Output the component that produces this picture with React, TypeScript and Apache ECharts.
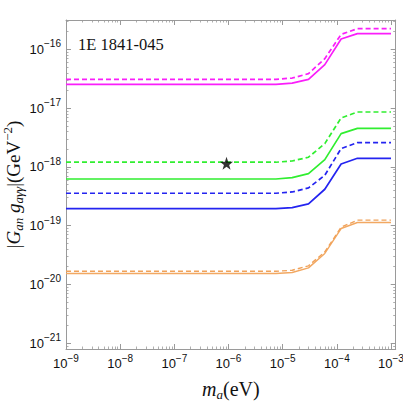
import * as echarts from "echarts";
import { useEffect, useRef } from "react";

// axion mass grid (eV)
const massEV = [1e-9, 7.5e-6, 1.5e-5, 3e-5, 6e-5, 1.2e-4, 2.4e-4, 1e-3];

// |G_an g_aγγ| limits (GeV^-2)
const magentaSolid = [2.54e-17, 2.54e-17, 2.67e-17, 3.09e-17, 5.5e-17, 1.5e-16, 1.85e-16, 1.85e-16];
const magentaDashed = [3.09e-17, 3.09e-17, 3.25e-17, 3.86e-17, 6.95e-17, 1.8e-16, 2.25e-16, 2.25e-16];
const greenDashed = [1.2e-18, 1.2e-18, 1.26e-18, 1.46e-18, 2.49e-18, 6.79e-18, 8.59e-18, 8.59e-18];
const greenSolid = [6.22e-19, 6.22e-19, 6.58e-19, 7.69e-19, 1.33e-18, 3.68e-18, 4.53e-18, 4.53e-18];
const blueDashed = [3.56e-19, 3.56e-19, 3.74e-19, 4.38e-19, 7.19e-19, 2.05e-18, 2.59e-18, 2.59e-18];
const blueSolid = [1.95e-19, 1.95e-19, 2.03e-19, 2.34e-19, 4.16e-19, 1.12e-18, 1.4e-18, 1.4e-18];
const orangeSolid = [1.53e-20, 1.53e-20, 1.59e-20, 1.91e-20, 3.36e-20, 8.93e-20, 1.13e-19, 1.13e-19];
const orangeDashed = [1.67e-20, 1.67e-20, 1.74e-20, 2.07e-20, 3.57e-20, 9.4e-20, 1.24e-19, 1.24e-19];

const starPoint = [9.2e-7, 1.15e-18];

const sourceName = "1E 1841-045";

// tick exponents
const xTickExps = [-9, -8, -7, -6, -5, -4, -3];
const yTickExps = [-21, -20, -19, -18, -17, -16];

const X_MIN = -9;
const X_MAX = -2.913;
const Y_MIN = -21.1;
const Y_MAX = -15.5;

const STAR =
  "path://M0,-10L2.35,-3.24L9.51,-3.09L3.8,1.24L5.88,8.09L0,4L-5.88,8.09L-3.8,1.24L-9.51,-3.09L-2.35,-3.24Z";

const minorTicks = (lo: number, hi: number) => {
  const out: number[] = [];
  for (let n = Math.floor(lo); n < hi; n++) {
    for (let k = 2; k <= 9; k++) {
      const v = n + Math.log10(k);
      if (v > lo && v < hi) out.push(v);
    }
  }
  return out;
};

const toLog = (ys: number[]) => massEV.map((m, i) => [Math.log10(m), Math.log10(ys[i])]);

const supLabel = (v: number) => `{b|10}{s|−${Math.round(-v)}}`;

const tickRich = {
  b: { fontSize: 13, fontFamily: "Liberation Sans", color: "#111", lineHeight: 21 },
  s: { fontSize: 10, fontFamily: "Liberation Sans", color: "#111", lineHeight: 10, verticalAlign: "top" },
};

const serif = "Liberation Serif";
const nameRich = {
  n: { fontFamily: serif, fontSize: 19, color: "#111", lineHeight: 24 },
  i: { fontFamily: serif, fontSize: 19, fontStyle: "italic", color: "#111", lineHeight: 24 },
  sub: { fontFamily: serif, fontSize: 13, fontStyle: "italic", color: "#111", lineHeight: 15, verticalAlign: "bottom" },
  sup: { fontFamily: serif, fontSize: 13, color: "#111", lineHeight: 14, verticalAlign: "top" },
};

const frameColor = "#9a9a9a";

export default () => {
  const chartRef = useRef<HTMLDivElement>(null);
  useEffect(() => {
    document.body.style.margin = "0";
    let myChart: any;
    if (chartRef.current) {
      myChart = echarts.init(chartRef.current, null, { renderer: "svg" });

      const axisBase = (min: number, max: number, position: string) => ({
        type: "value",
        min,
        max,
        position,
        splitLine: { show: false },
        axisLine: { show: true, onZero: false, lineStyle: { color: frameColor, width: 1 } },
      });
      const majorTick = (vals: number[]) => ({
        show: true,
        inside: true,
        length: 5,
        customValues: vals,
        lineStyle: { color: frameColor, width: 1 },
      });
      const minorTick = (vals: number[]) => ({
        show: true,
        inside: true,
        length: 2.5,
        customValues: vals,
        lineStyle: { color: frameColor, width: 0.8 },
      });
      const xMinor = minorTicks(X_MIN, X_MAX);
      const yMinor = minorTicks(Y_MIN, Y_MAX);

      const lineSeries = (ys: number[], color: string, dashed: boolean, width = 1.7) => ({
        type: "line",
        data: toLog(ys),
        showSymbol: false,
        symbol: "none",
        lineStyle: { color, width, type: dashed ? [5, 3] : "solid" },
        xAxisIndex: 0,
        yAxisIndex: 0,
      });

      myChart.setOption({
        animation: false,
        title: {
          text: sourceName,
          left: 73,
          top: 31,
          textStyle: { fontFamily: serif, fontSize: 16.5, fontWeight: "normal", color: "#111" },
        },
        grid: { left: 66, right: 7.3, top: 20, bottom: 56, outerBoundsMode: "none", containLabel: false },
        xAxis: [
          {
            ...axisBase(X_MIN, X_MAX, "bottom"),
            axisTick: majorTick(xTickExps),
            axisLabel: { customValues: xTickExps, formatter: supLabel, rich: tickRich, margin: 4 },
            name: "{i|m}{sub|a}{n|(eV)}",
            nameLocation: "middle",
            nameGap: 28,
            nameMoveOverlap: false,
            nameTextStyle: { rich: { ...nameRich, n: { ...nameRich.n, fontSize: 20 }, i: { ...nameRich.i, fontSize: 20 } } },
          },
          { ...axisBase(X_MIN, X_MAX, "bottom"), axisLine: { show: false }, axisTick: minorTick(xMinor), axisLabel: { show: false } },
          { ...axisBase(X_MIN, X_MAX, "top"), axisTick: majorTick(xTickExps), axisLabel: { show: false } },
          { ...axisBase(X_MIN, X_MAX, "top"), axisLine: { show: false }, axisTick: minorTick(xMinor), axisLabel: { show: false } },
        ],
        yAxis: [
          {
            ...axisBase(Y_MIN, Y_MAX, "left"),
            axisTick: majorTick(yTickExps),
            axisLabel: { customValues: yTickExps, formatter: supLabel, rich: tickRich, margin: 5 },
            name: "{n||}{i|G}{sub|an}{n| }{i|g}{sub|aγγ}{n||(GeV}{sup|−2}{n|)}",
            nameLocation: "middle",
            nameRotate: 90,
            nameGap: 41,
            nameMoveOverlap: false,
            nameTextStyle: { rich: nameRich },
          },
          { ...axisBase(Y_MIN, Y_MAX, "left"), axisLine: { show: false }, axisTick: minorTick(yMinor), axisLabel: { show: false } },
          { ...axisBase(Y_MIN, Y_MAX, "right"), axisTick: majorTick(yTickExps), axisLabel: { show: false } },
          { ...axisBase(Y_MIN, Y_MAX, "right"), axisLine: { show: false }, axisTick: minorTick(yMinor), axisLabel: { show: false } },
        ],
        series: [
          lineSeries(orangeSolid, "#f2a862", false, 1.4),
          lineSeries(orangeDashed, "#f0a25a", true, 1.4),
          lineSeries(blueSolid, "#2424f0", false),
          lineSeries(blueDashed, "#2424f0", true),
          lineSeries(greenSolid, "#30ee30", false),
          lineSeries(greenDashed, "#30ee30", true),
          lineSeries(magentaSolid, "#fa1efa", false),
          lineSeries(magentaDashed, "#fa1efa", true),
          {
            type: "scatter",
            data: [[Math.log10(starPoint[0]), Math.log10(starPoint[1])]],
            symbol: STAR,
            symbolSize: 13,
            itemStyle: { color: "#000" },
            xAxisIndex: 0,
            yAxisIndex: 0,
            z: 5,
          },
        ],
      });
    }
    return () => {
      if (myChart) myChart.dispose();
    };
  }, []);

  return <div ref={chartRef} style={{ width: 403, height: 405 }}></div>;
};
